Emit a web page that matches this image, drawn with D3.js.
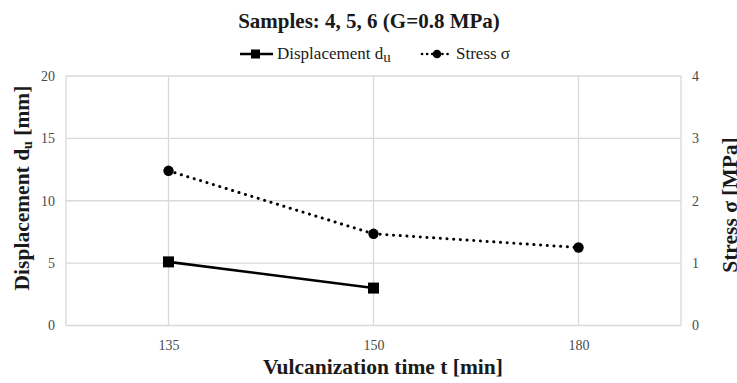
<!DOCTYPE html>
<html>
<head>
<meta charset="utf-8">
<script src="https://cdn.jsdelivr.net/npm/d3@7"></script>
<style>
  html, body { margin: 0; padding: 0; background: #fff; }
  svg { display: block; }
  text { font-family: "Liberation Serif", "Times New Roman", serif; }
</style>
</head>
<body>
<svg id="chart" width="737" height="383"></svg>
<script>
// Vulcanization time categories (min)
const categories = ["135", "150", "180"];
// Ultimate displacement d_u (mm); no value at 180 min
const displacement = [5.1, 3.0, null];
// Stress sigma (MPa)
const stress = [2.48, 1.47, 1.25];
// Axis ticks
const leftTicks = [0, 5, 10, 15, 20];
const rightTicks = [0, 1, 2, 3, 4];

const svg = d3.select("#chart");
const plot = { left: 66, right: 681, top: 76, bottom: 325.5 };
const grid = "#d9d9d9";

const x = d3.scalePoint().domain(categories).range([plot.left, plot.right]).padding(0.5);
const yL = d3.scaleLinear().domain([0, 20]).range([plot.bottom, plot.top]);
const yR = d3.scaleLinear().domain([0, 4]).range([plot.bottom, plot.top]);

// Gridlines
svg.append("g").selectAll("line.h").data(leftTicks).join("line")
  .attr("x1", plot.left).attr("x2", plot.right)
  .attr("y1", d => yL(d)).attr("y2", d => yL(d))
  .attr("stroke", grid).attr("stroke-width", 1.3);
svg.append("g").selectAll("line.v").data(categories).join("line")
  .attr("x1", d => x(d)).attr("x2", d => x(d))
  .attr("y1", plot.top).attr("y2", plot.bottom)
  .attr("stroke", grid).attr("stroke-width", 1.3);
// Plot frame sides
[plot.left, plot.right].forEach(px => {
  svg.append("line").attr("x1", px).attr("x2", px)
    .attr("y1", plot.top).attr("y2", plot.bottom)
    .attr("stroke", grid).attr("stroke-width", 1.3);
});

// Axes (labels only; rules are drawn as grid)
const tickStyle = g => {
  g.attr("font-family", null).attr("font-size", null);
  g.select(".domain").remove();
  g.selectAll(".tick line").remove();
  g.selectAll(".tick text").attr("fill", "#4a4a4a")
    .style("font-family", "'Liberation Serif', serif").style("font-size", "14px");
};
svg.append("g").attr("transform", `translate(${plot.left},0)`)
  .call(d3.axisLeft(yL).tickValues(leftTicks).tickFormat(d3.format("d")).tickSize(0).tickPadding(11))
  .call(tickStyle);
svg.append("g").attr("transform", `translate(${plot.right},0)`)
  .call(d3.axisRight(yR).tickValues(rightTicks).tickFormat(d3.format("d")).tickSize(0).tickPadding(11))
  .call(tickStyle);
svg.append("g").attr("transform", `translate(0,${plot.bottom})`)
  .call(d3.axisBottom(x).tickSize(0).tickPadding(15))
  .call(tickStyle);

// Series lines
const dispPts = categories.map((c, i) => ({ c, v: displacement[i] })).filter(d => d.v != null);
const stressPts = categories.map((c, i) => ({ c, v: stress[i] }));

svg.append("path").datum(stressPts)
  .attr("d", d3.line().x(d => x(d.c)).y(d => yR(d.v)))
  .attr("fill", "none").attr("stroke", "#000").attr("stroke-width", 3)
  .attr("stroke-linecap", "round").attr("stroke-dasharray", "0.1,6.6");
svg.append("g").selectAll("circle").data(stressPts).join("circle")
  .attr("cx", d => x(d.c)).attr("cy", d => yR(d.v)).attr("r", 5.2).attr("fill", "#000");

svg.append("path").datum(dispPts)
  .attr("d", d3.line().x(d => x(d.c)).y(d => yL(d.v)))
  .attr("fill", "none").attr("stroke", "#000").attr("stroke-width", 2.6);
svg.append("g").selectAll("rect").data(dispPts).join("rect")
  .attr("x", d => x(d.c) - 5.5).attr("y", d => yL(d.v) - 5.5)
  .attr("width", 11).attr("height", 11).attr("fill", "#000");

// Title
svg.append("text").attr("x", 369).attr("y", 28).attr("text-anchor", "middle")
  .style("font-size", "21px").style("font-weight", "bold").attr("fill", "#1a1a1a")
  .text("Samples: 4, 5, 6 (G=0.8 MPa)");

// Legend
const lg = svg.append("g");
lg.append("line").attr("x1", 240).attr("x2", 273).attr("y1", 54).attr("y2", 54)
  .attr("stroke", "#000").attr("stroke-width", 2.6);
lg.append("rect").attr("x", 251).attr("y", 49.5).attr("width", 9).attr("height", 9).attr("fill", "#000");
const lt1 = lg.append("text").attr("x", 277).attr("y", 59).style("font-size", "17px").attr("fill", "#1a1a1a");
lt1.append("tspan").text("Displacement d");
lt1.append("tspan").attr("dy", 3).style("font-size", "15px").text("u");

lg.append("line").attr("x1", 422).attr("x2", 452).attr("y1", 54).attr("y2", 54)
  .attr("stroke", "#000").attr("stroke-width", 2.6)
  .attr("stroke-linecap", "round").attr("stroke-dasharray", "0.1,5");
lg.append("circle").attr("cx", 437).attr("cy", 54).attr("r", 4.3).attr("fill", "#000");
lg.append("text").attr("x", 456).attr("y", 59).style("font-size", "17px").attr("fill", "#1a1a1a")
  .text("Stress σ");

// Axis titles
svg.append("text").attr("x", 383).attr("y", 374).attr("text-anchor", "middle")
  .style("font-size", "21.5px").style("font-weight", "bold").attr("fill", "#1a1a1a")
  .text("Vulcanization time t [min]");

const ylt = svg.append("text").attr("transform", "translate(29,188) rotate(-90)")
  .attr("text-anchor", "middle").style("font-size", "21.5px").style("font-weight", "bold")
  .attr("fill", "#1a1a1a");
ylt.append("tspan").text("Displacement d");
ylt.append("tspan").attr("dy", 3).style("font-size", "14px").text("u");
ylt.append("tspan").attr("dy", -3).text(" [mm]");

svg.append("text").attr("transform", "translate(737,205) rotate(-90)")
  .attr("text-anchor", "middle").style("font-size", "21.5px").style("font-weight", "bold")
  .attr("fill", "#1a1a1a").text("Stress σ [MPa]");
</script>
</body>
</html>
